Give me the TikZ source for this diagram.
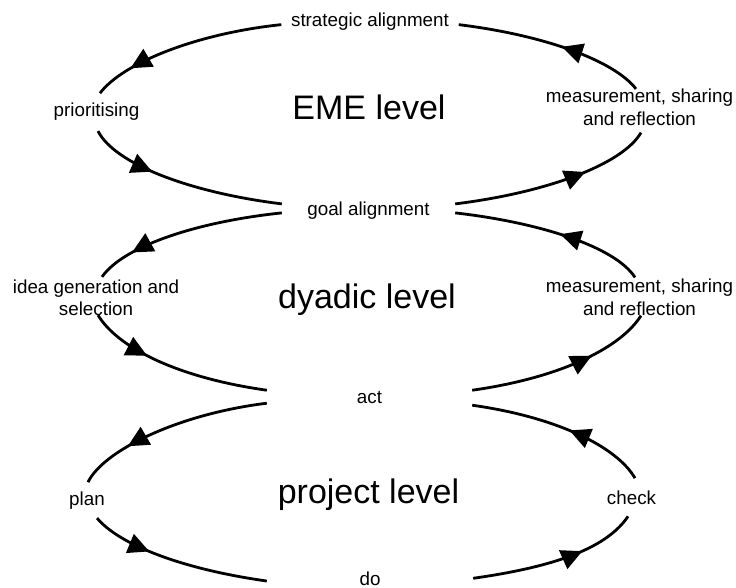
\documentclass[tikz,border=0pt]{standalone}
\usepackage{fontspec}
\setmainfont{Liberation Sans}
\usetikzlibrary{arrows.meta,decorations.markings}

\begin{document}
\begin{tikzpicture}[x=1pt,y=1pt,
 lbl/.style={font=\fontsize{18.8}{22.5}\selectfont,inner sep=0pt,align=center},
 lvl/.style={font=\fontsize{34}{40}\selectfont,inner sep=0pt,anchor=base},
 cyc/.style={line width=2.8pt},
 tipat/.style={postaction={decorate},decoration={markings,mark=at position #1 with {\arrow{Triangle[length=21pt,width=20pt]}}}}]
\useasboundingbox (0,0) rectangle (736,-588);
\node[lbl,anchor=base,minimum width=177pt] (strat) at (370,-27) {strategic alignment};
\node[lbl,anchor=base,inner ysep=10pt] (prio) at (96.5,-117) {prioritising};
\node[lbl] (meas1) at (639.5,-107.25) {measurement, sharing\\and reflection};
\node[lbl,anchor=base,minimum width=173pt] (goal) at (368.5,-215) {goal alignment};
\node[lbl] (idea) at (96,-297.75) {idea generation and\\selection};
\node[lbl] (meas2) at (639.5,-297.25) {measurement, sharing\\and reflection};
\node[lbl,anchor=base,minimum width=205pt] (act) at (369.5,-403) {act};
\node[lbl,anchor=base,inner ysep=9pt] (plan) at (87,-505) {plan};
\node[lbl,anchor=base,inner ysep=12pt] (check) at (631.5,-504) {check};
\node[lbl,anchor=base,minimum width=206pt] (do) at (370,-585) {do};
\node[lvl] (eme) at (369,-120) {EME level};
\node[lvl] (dyadic) at (367,-308) {dyadic level};
\node[lvl] (project) at (368.5,-503) {project level};
\draw[cyc,tipat=.8] ([yshift=-2.5pt]strat.west) to[out=186,in=53,out distance=87pt,in distance=37pt] ([xshift=3.5pt]prio.north);
\draw[cyc,tipat=.34] ([xshift=1.5pt]prio.south) to[out=297,in=173,out distance=37pt,in distance=92pt] ([yshift=6.25pt]goal.west);
\draw[cyc,tipat=.66] ([yshift=6.25pt]goal.east) to[out=7,in=240,out distance=91pt,in distance=37pt] ([xshift=1.5pt,yshift=-7pt]meas1.south);
\draw[cyc,tipat=.45] ([xshift=-3.5pt]meas1.north) to[out=128,in=-7,out distance=37pt,in distance=84pt] ([yshift=-2.5pt]strat.east);
\draw[cyc,tipat=.8] ([yshift=-2.75pt]goal.west) to[out=186,in=55,out distance=87pt,in distance=37pt] ([xshift=6pt,yshift=2.5pt]idea.north);
\draw[cyc,tipat=.34] ([xshift=2pt,yshift=1pt]idea.south) to[out=301,in=172,out distance=37pt,in distance=92pt] ([yshift=6.8pt]act.west);
\draw[cyc,tipat=.66] ([yshift=6.8pt]act.east) to[out=8,in=238,out distance=91pt,in distance=37pt] ([xshift=1.5pt]meas2.south);
\draw[cyc,tipat=.45] ([xshift=-4.5pt,yshift=1.5pt]meas2.north) to[out=123,in=-6.5,out distance=37pt,in distance=84pt] ([yshift=-2.75pt]goal.east);
\draw[cyc,tipat=.73] ([yshift=-6.2pt]act.west) to[out=187,in=64,out distance=90pt,in distance=35pt] ([xshift=1pt]plan.north);
\draw[cyc,tipat=.34] ([xshift=10pt]plan.south) to[out=310,in=172,out distance=35pt,in distance=85pt] ([yshift=-2.75pt]do.west);
\draw[cyc,tipat=.66] (do.east) to[out=8,in=236,out distance=88pt,in distance=36pt] ([xshift=-3.5pt]check.south);
\draw[cyc,tipat=.45] ([xshift=3.5pt]check.north) to[out=120,in=-8,out distance=36pt,in distance=86pt] ([yshift=-8.2pt]act.east);
\end{tikzpicture}
\end{document}
